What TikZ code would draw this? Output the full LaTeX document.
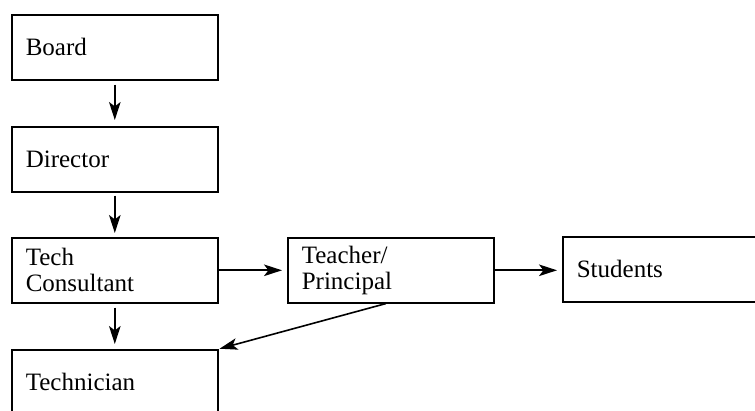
\documentclass[tikz,border=0pt]{standalone}
\usepackage{fontspec}
\setmainfont{Liberation Serif}
\usetikzlibrary{arrows.meta}
\begin{document}
\begin{tikzpicture}[x=0.5pt,y=-0.5pt,
  box/.style={draw,line width=0.8pt,anchor=north west,minimum width=103pt,minimum height=32.5pt,
    inner xsep=7pt,inner ysep=0pt,text width=89pt,align=left,font=\fontsize{12.5}{13}\selectfont},
  arr/.style={line width=0.8pt,-{Stealth[length=9pt,width=5.8pt,inset=2.2pt]}}]
\clip (0,0) rectangle (755,411);
\node[box] (board) at (11,14) {Board};
\node[box] (director) at (11,126) {Director};
\node[box] (tech) at (11,237) {Tech\\Consultant};
\node[box] (teacher) at (287,237) {Teacher/\\Principal};
\node[box,text width=156pt] (students) at (562,236) {Students};
\node[box] (technician) at (11,349) {Technician};
\draw[arr,shorten <=2pt,shorten >=3pt] (board.south) -- (director.north);
\draw[arr,shorten <=1.5pt,shorten >=2pt] (director.south) -- (tech.north);
\draw[arr,shorten <=2pt,shorten >=2.5pt] (tech.south) -- (technician.north);
\draw[arr,shorten >=2.5pt] (tech.east) -- (teacher.west);
\draw[arr,shorten >=2.5pt] (teacher.east) -- (students.west|-teacher.east);
\draw[arr,shorten >=0.5pt] ([xshift=-2.5pt]teacher.south) -- (technician.north east);
\end{tikzpicture}
\end{document}
